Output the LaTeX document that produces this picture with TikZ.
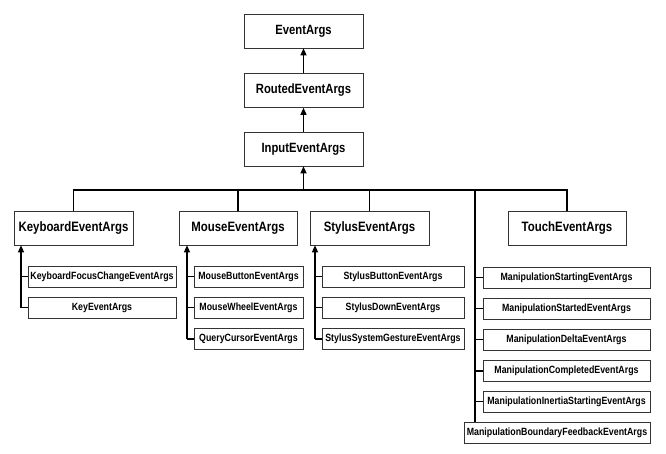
\documentclass[tikz,border=0pt]{standalone}
\usepackage{fontspec}
\newfontfamily\labfont[FakeStretch=0.84]{Liberation Sans}
\usetikzlibrary{arrows.meta}
\begin{document}
\begin{tikzpicture}[x=1pt,y=-1pt,
  box/.style={draw=black!80,line width=0.6pt,rectangle,inner sep=0pt,anchor=center,font=\labfont\bfseries},
  topbox/.style={box,minimum width=119pt,minimum height=34pt,font=\labfont\bfseries\fontsize{13.4}{15}\selectfont},
  midbox/.style={box,minimum height=34pt,font=\labfont\bfseries\fontsize{13.6}{15}\selectfont},
  subbox/.style={box,minimum height=21pt,font=\labfont\bfseries\fontsize{10.5}{12}\selectfont},
  conn/.style={line width=1.1pt,black},
  arr/.style={conn,-{Triangle[length=7pt,width=6pt]}}
]
\useasboundingbox (0,0) rectangle (666,454);
% top chain
\node[topbox] (E) at (303.5,31) {EventArgs};
\node[topbox] (R) at (303.5,90.5) {RoutedEventArgs};
\node[topbox] (I) at (303.5,149) {InputEventArgs};
% level 2
\node[midbox,minimum width=119pt] (K) at (73.5,228) {KeyboardEventArgs};
\node[midbox,minimum width=118pt] (M) at (238,228) {MouseEventArgs};
\node[midbox,minimum width=119pt] (S) at (369.5,228) {StylusEventArgs};
\node[midbox,minimum width=118pt] (T) at (567,228) {TouchEventArgs};
% keyboard children
\node[subbox,minimum width=148pt] (kf) at (102,276.5) {KeyboardFocusChangeEventArgs};
\node[subbox,minimum width=148pt] (ke) at (102,307.5) {KeyEventArgs};
% mouse children
\node[subbox,minimum width=109pt] (mb) at (248.5,276.5) {MouseButtonEventArgs};
\node[subbox,minimum width=109pt] (mw) at (248.5,307.5) {MouseWheelEventArgs};
\node[subbox,minimum width=109pt] (mq) at (248.5,339) {QueryCursorEventArgs};
% stylus children
\node[subbox,minimum width=142pt] (sb) at (393,276.5) {StylusButtonEventArgs};
\node[subbox,minimum width=142pt] (sd) at (393,307.5) {StylusDownEventArgs};
\node[subbox,minimum width=142pt] (sg) at (393,339) {StylusSystemGestureEventArgs};
% manipulation
\node[subbox,minimum width=167pt] (ms) at (566.5,277.5) {ManipulationStartingEventArgs};
\node[subbox,minimum width=167pt] (mt) at (566.5,308.5) {ManipulationStartedEventArgs};
\node[subbox,minimum width=167pt] (md) at (566.5,339.5) {ManipulationDeltaEventArgs};
\node[subbox,minimum width=167pt] (mc) at (566.5,371) {ManipulationCompletedEventArgs};
\node[subbox,minimum width=167pt] (mi) at (566.5,401.5) {ManipulationInertiaStartingEventArgs};
\node[subbox,minimum width=186pt] (mf) at (557,432.5) {ManipulationBoundaryFeedbackEventArgs};
% connectors top
\draw[arr] (R.north) -- (E.south);
\draw[arr] (I.north) -- (R.south);
\coordinate (bus) at (303.5,190);
\draw[arr] (bus) -- (I.south);
\draw[conn] (K.north) |- (bus) -| (T.north);
\draw[conn] (M.north) -- (M.north |- bus);
\draw[conn] (S.north) -- (S.north |- bus);
\coordinate (mx) at (475,190);
\draw[conn] (mx) -- (mx |- mf.north);
\foreach \n in {ms,mt,md,mc,mi} \draw[conn] (mx |- \n.west) -- (\n.west);
% keyboard
\coordinate (kx) at (21,0);
\draw[arr] (kx |- ke.west) -- (kx |- K.south);
\foreach \n in {kf,ke} \draw[conn] (kx |- \n.west) -- (\n.west);
% mouse
\coordinate (mxx) at (187,0);
\draw[arr] (mxx |- mq.west) -- (mxx |- M.south);
\foreach \n in {mb,mw,mq} \draw[conn] (mxx |- \n.west) -- (\n.west);
% stylus
\coordinate (sx) at (315,0);
\draw[arr] (sx |- sg.west) -- (sx |- S.south);
\foreach \n in {sb,sd,sg} \draw[conn] (sx |- \n.west) -- (\n.west);
\end{tikzpicture}
\end{document}
